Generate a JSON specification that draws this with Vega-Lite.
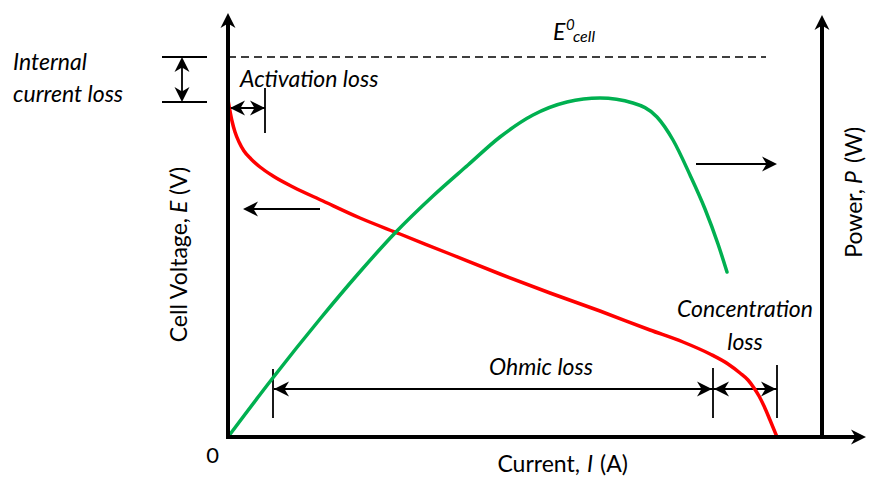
{
  "$schema": "https://vega.github.io/schema/vega-lite/v6.json",
  "width": 869,
  "height": 477,
  "autosize": {"type": "none"},
  "padding": 0,
  "background": "white",
  "config": {"view": {"stroke": null}},
  "datasets": {
    "curves": [
      {"series": "Cell voltage", "i": 0, "x": 0, "y": 337},
      {"series": "Cell voltage", "i": 1, "x": 2, "y": 326},
      {"series": "Cell voltage", "i": 2, "x": 4, "y": 316},
      {"series": "Cell voltage", "i": 3, "x": 7, "y": 305},
      {"series": "Cell voltage", "i": 4, "x": 11, "y": 295},
      {"series": "Cell voltage", "i": 5, "x": 16, "y": 286},
      {"series": "Cell voltage", "i": 6, "x": 23, "y": 278},
      {"series": "Cell voltage", "i": 7, "x": 32, "y": 270},
      {"series": "Cell voltage", "i": 8, "x": 45, "y": 261},
      {"series": "Cell voltage", "i": 9, "x": 65, "y": 250},
      {"series": "Cell voltage", "i": 10, "x": 95, "y": 236},
      {"series": "Cell voltage", "i": 11, "x": 132, "y": 219},
      {"series": "Cell voltage", "i": 12, "x": 172, "y": 203},
      {"series": "Cell voltage", "i": 13, "x": 222, "y": 183},
      {"series": "Cell voltage", "i": 14, "x": 272, "y": 163},
      {"series": "Cell voltage", "i": 15, "x": 322, "y": 144},
      {"series": "Cell voltage", "i": 16, "x": 372, "y": 126},
      {"series": "Cell voltage", "i": 17, "x": 422, "y": 107},
      {"series": "Cell voltage", "i": 18, "x": 455, "y": 95},
      {"series": "Cell voltage", "i": 19, "x": 482, "y": 83},
      {"series": "Cell voltage", "i": 20, "x": 500, "y": 73},
      {"series": "Cell voltage", "i": 21, "x": 512, "y": 64},
      {"series": "Cell voltage", "i": 22, "x": 520, "y": 57},
      {"series": "Cell voltage", "i": 23, "x": 526, "y": 49},
      {"series": "Cell voltage", "i": 24, "x": 531, "y": 41},
      {"series": "Cell voltage", "i": 25, "x": 536, "y": 31},
      {"series": "Cell voltage", "i": 26, "x": 542, "y": 17},
      {"series": "Cell voltage", "i": 27, "x": 549, "y": 0},
      {"series": "Power", "i": 0, "x": 0, "y": 0},
      {"series": "Power", "i": 1, "x": 44, "y": 58},
      {"series": "Power", "i": 2, "x": 92, "y": 118},
      {"series": "Power", "i": 3, "x": 130, "y": 163},
      {"series": "Power", "i": 4, "x": 167, "y": 204},
      {"series": "Power", "i": 5, "x": 205, "y": 241},
      {"series": "Power", "i": 6, "x": 240, "y": 272},
      {"series": "Power", "i": 7, "x": 272, "y": 300},
      {"series": "Power", "i": 8, "x": 305, "y": 322},
      {"series": "Power", "i": 9, "x": 339, "y": 335},
      {"series": "Power", "i": 10, "x": 372, "y": 339},
      {"series": "Power", "i": 11, "x": 405, "y": 334},
      {"series": "Power", "i": 12, "x": 429, "y": 320},
      {"series": "Power", "i": 13, "x": 445, "y": 297},
      {"series": "Power", "i": 14, "x": 462, "y": 262},
      {"series": "Power", "i": 15, "x": 477, "y": 228},
      {"series": "Power", "i": 16, "x": 490, "y": 193},
      {"series": "Power", "i": 17, "x": 499, "y": 165}
    ],
    "segments": [
      {"kind": "axis", "x": 0, "y": -2, "x2": 0, "y2": 414},
      {"kind": "axis", "x": -2, "y": 0, "x2": 628, "y2": 0},
      {"kind": "axis", "x": 594, "y": 0, "x2": 594, "y2": 412},
      {"kind": "dashed", "x": 0, "y": 380, "x2": 538, "y2": 380},
      {"kind": "thin", "x": -66, "y": 380, "x2": -21, "y2": 380},
      {"kind": "thin", "x": -66, "y": 335, "x2": -21, "y2": 335},
      {"kind": "thin", "x": -46, "y": 378, "x2": -46, "y2": 337},
      {"kind": "thin", "x": 2, "y": 329, "x2": 37, "y2": 329},
      {"kind": "thin", "x": 37, "y": 349, "x2": 37, "y2": 304},
      {"kind": "thin", "x": 17, "y": 228, "x2": 92, "y2": 228},
      {"kind": "thin", "x": 468, "y": 273, "x2": 547, "y2": 273},
      {"kind": "thin", "x": 46, "y": 48, "x2": 485, "y2": 48},
      {"kind": "thin", "x": 45, "y": 68, "x2": 45, "y2": 19},
      {"kind": "thin", "x": 485, "y": 69, "x2": 485, "y2": 19},
      {"kind": "thin", "x": 485, "y": 48, "x2": 549, "y2": 48},
      {"kind": "thin", "x": 549, "y": 72, "x2": 549, "y2": 19}
    ],
    "heads": [
      {"x": 0, "y": 424, "dir": "up"},
      {"x": 638, "y": 0, "dir": "right"},
      {"x": 594, "y": 422, "dir": "up"},
      {"x": -46, "y": 380, "dir": "up"},
      {"x": -46, "y": 335, "dir": "down"},
      {"x": 2, "y": 329, "dir": "left"},
      {"x": 37, "y": 329, "dir": "right"},
      {"x": 15, "y": 228, "dir": "left"},
      {"x": 549, "y": 273, "dir": "right"},
      {"x": 46, "y": 48, "dir": "left"},
      {"x": 484, "y": 48, "dir": "right"},
      {"x": 486, "y": 48, "dir": "left"},
      {"x": 548, "y": 48, "dir": "right"}
    ],
    "labels": [
      {"role": "origin", "text": "0", "x": -15.5, "y": -26},
      {"role": "axis-r", "text": "Current,", "x": 352, "y": -35},
      {"role": "axis-i", "text": "I", "x": 359, "y": -35},
      {"role": "axis", "text": "(A)", "x": 372, "y": -35},
      {"role": "yaxis-r", "text": "Cell Voltage,", "x": -41, "y": 219},
      {"role": "yaxis-i", "text": "E", "x": -41, "y": 224},
      {"role": "yaxis", "text": "(V)", "x": -41, "y": 242},
      {"role": "yaxis-r", "text": "Power,", "x": 634, "y": 248},
      {"role": "yaxis-i", "text": "P", "x": 634, "y": 253},
      {"role": "yaxis", "text": "(W)", "x": 634, "y": 274},
      {"role": "note", "text": "Internal", "x": -215, "y": 367},
      {"role": "note", "text": "current loss", "x": -215, "y": 335},
      {"role": "note", "text": "Activation loss", "x": 12, "y": 350},
      {"role": "note-c", "text": "Ohmic loss", "x": 313, "y": 62},
      {"role": "note-c", "text": "Concentration", "x": 517, "y": 120},
      {"role": "note-c", "text": "loss", "x": 517, "y": 87},
      {"role": "E", "text": "E", "x": 325, "y": 397},
      {"role": "sup", "text": "0", "x": 338, "y": 407},
      {"role": "sub", "text": "cell", "x": 345, "y": 395}
    ]
  },
  "encoding": {
    "x": {"field": "x", "type": "quantitative", "scale": {"domain": [-228, 641], "nice": false, "zero": false}, "axis": null},
    "y": {"field": "y", "type": "quantitative", "scale": {"domain": [-40, 437], "nice": false, "zero": false}, "axis": null}
  },
  "layer": [
    {
      "data": {"name": "segments"},
      "transform": [{"filter": "datum.kind === 'dashed'"}],
      "mark": {"type": "rule", "color": "black", "strokeWidth": 1.6, "strokeDash": [8, 5]},
      "encoding": {"x2": {"field": "x2"}, "y2": {"field": "y2"}}
    },
    {
      "data": {"name": "segments"},
      "transform": [{"filter": "datum.kind === 'thin'"}],
      "mark": {"type": "rule", "color": "black", "strokeWidth": 1.8},
      "encoding": {"x2": {"field": "x2"}, "y2": {"field": "y2"}}
    },
    {
      "data": {"name": "curves"},
      "mark": {"type": "line", "strokeWidth": 3.5, "interpolate": "monotone", "strokeCap": "round"},
      "encoding": {
        "color": {"field": "series", "type": "nominal", "scale": {"domain": ["Cell voltage", "Power"], "range": ["#FF0000", "#00B050"]}, "legend": null},
        "order": {"field": "i", "type": "quantitative"}
      }
    },
    {
      "data": {"name": "segments"},
      "transform": [{"filter": "datum.kind === 'axis'"}],
      "mark": {"type": "rule", "color": "black", "strokeWidth": 4},
      "encoding": {"x2": {"field": "x2"}, "y2": {"field": "y2"}}
    },
    {
      "data": {"name": "heads"},
      "transform": [{"filter": "datum.dir === 'right'"}],
      "mark": {"type": "point", "shape": "M0,0L-2,-1L-1.4,0L-2,1Z", "angle": 0, "filled": true, "opacity": 1, "color": "black", "strokeWidth": 0, "size": 225}
    },
    {
      "data": {"name": "heads"},
      "transform": [{"filter": "datum.dir === 'down'"}],
      "mark": {"type": "point", "shape": "M0,0L-2,-1L-1.4,0L-2,1Z", "angle": 90, "filled": true, "opacity": 1, "color": "black", "strokeWidth": 0, "size": 225}
    },
    {
      "data": {"name": "heads"},
      "transform": [{"filter": "datum.dir === 'left'"}],
      "mark": {"type": "point", "shape": "M0,0L-2,-1L-1.4,0L-2,1Z", "angle": 180, "filled": true, "opacity": 1, "color": "black", "strokeWidth": 0, "size": 225}
    },
    {
      "data": {"name": "heads"},
      "transform": [{"filter": "datum.dir === 'up'"}],
      "mark": {"type": "point", "shape": "M0,0L-2,-1L-1.4,0L-2,1Z", "angle": 270, "filled": true, "opacity": 1, "color": "black", "strokeWidth": 0, "size": 225}
    },
    {
      "data": {"name": "labels"},
      "transform": [{"filter": "datum.role === 'origin'"}],
      "mark": {"type": "text", "font": "Lato", "fontSize": 22, "align": "center", "baseline": "alphabetic", "color": "black"},
      "encoding": {"text": {"field": "text"}}
    },
    {
      "data": {"name": "labels"},
      "transform": [{"filter": "datum.role === 'axis'"}],
      "mark": {"type": "text", "font": "Lato", "fontSize": 23, "align": "left", "baseline": "alphabetic", "color": "black"},
      "encoding": {"text": {"field": "text"}}
    },
    {
      "data": {"name": "labels"},
      "transform": [{"filter": "datum.role === 'axis-r'"}],
      "mark": {"type": "text", "font": "Lato", "fontSize": 23, "align": "right", "baseline": "alphabetic", "color": "black"},
      "encoding": {"text": {"field": "text"}}
    },
    {
      "data": {"name": "labels"},
      "transform": [{"filter": "datum.role === 'axis-i'"}],
      "mark": {"type": "text", "font": "Lato", "fontSize": 23, "fontStyle": "italic", "align": "left", "baseline": "alphabetic", "color": "black"},
      "encoding": {"text": {"field": "text"}}
    },
    {
      "data": {"name": "labels"},
      "transform": [{"filter": "datum.role === 'yaxis'"}],
      "mark": {"type": "text", "font": "Lato", "fontSize": 23, "angle": 270, "align": "left", "baseline": "alphabetic", "color": "black"},
      "encoding": {"text": {"field": "text"}}
    },
    {
      "data": {"name": "labels"},
      "transform": [{"filter": "datum.role === 'yaxis-r'"}],
      "mark": {"type": "text", "font": "Lato", "fontSize": 23, "angle": 270, "align": "right", "baseline": "alphabetic", "color": "black"},
      "encoding": {"text": {"field": "text"}}
    },
    {
      "data": {"name": "labels"},
      "transform": [{"filter": "datum.role === 'yaxis-i'"}],
      "mark": {"type": "text", "font": "Lato", "fontSize": 23, "fontStyle": "italic", "angle": 270, "align": "left", "baseline": "alphabetic", "color": "black"},
      "encoding": {"text": {"field": "text"}}
    },
    {
      "data": {"name": "labels"},
      "transform": [{"filter": "datum.role === 'note'"}],
      "mark": {"type": "text", "font": "Lato", "fontSize": 23, "fontStyle": "italic", "align": "left", "baseline": "alphabetic", "color": "black"},
      "encoding": {"text": {"field": "text"}}
    },
    {
      "data": {"name": "labels"},
      "transform": [{"filter": "datum.role === 'note-c'"}],
      "mark": {"type": "text", "font": "Lato", "fontSize": 23, "fontStyle": "italic", "align": "center", "baseline": "alphabetic", "color": "black"},
      "encoding": {"text": {"field": "text"}}
    },
    {
      "data": {"name": "labels"},
      "transform": [{"filter": "datum.role === 'E'"}],
      "mark": {"type": "text", "font": "Lato", "fontSize": 23, "fontStyle": "italic", "align": "left", "baseline": "alphabetic", "color": "black"},
      "encoding": {"text": {"field": "text"}}
    },
    {
      "data": {"name": "labels"},
      "transform": [{"filter": "datum.role === 'sup'"}],
      "mark": {"type": "text", "font": "Lato", "fontSize": 15, "fontStyle": "italic", "align": "left", "baseline": "alphabetic", "color": "black"},
      "encoding": {"text": {"field": "text"}}
    },
    {
      "data": {"name": "labels"},
      "transform": [{"filter": "datum.role === 'sub'"}],
      "mark": {"type": "text", "font": "Lato", "fontSize": 16, "fontStyle": "italic", "align": "left", "baseline": "alphabetic", "color": "black"},
      "encoding": {"text": {"field": "text"}}
    }
  ]
}
